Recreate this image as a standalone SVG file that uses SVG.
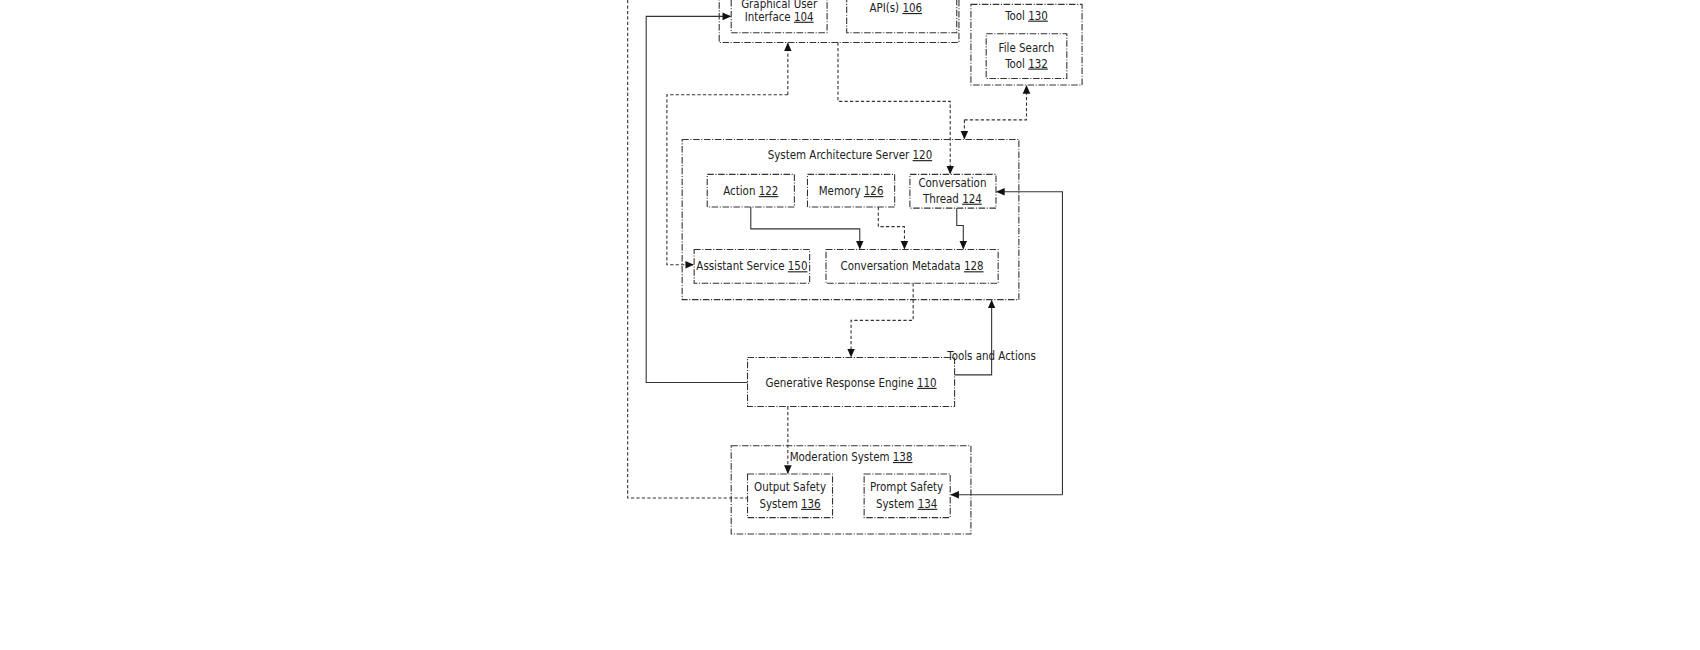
<svg xmlns="http://www.w3.org/2000/svg" width="1700" height="650" viewBox="0 0 1700 650">
<style>
.b{fill:#fff;stroke:#333;stroke-width:1;stroke-dasharray:6 1.5 1 1.5}
.t{font-family:"DejaVu Sans Condensed","Liberation Sans",sans-serif;font-size:10.5px;fill:#222;text-anchor:middle}
.c{fill:none;stroke:#333;stroke-width:1}
.d{fill:none;stroke:#333;stroke-width:1;stroke-dasharray:3 2}
</style>
<defs><marker id="a" markerWidth="8" markerHeight="8" refX="7" refY="4" orient="auto" markerUnits="userSpaceOnUse"><path d="M0,0.5 L8,4 L0,7.5z" fill="#111"/></marker></defs>
<rect width="1700" height="650" fill="#fff"/>
<g transform="scale(1.0897)">
<g id="client"><rect class="b" x="660" y="-20" width="220" height="59"/></g>
<g id="gui"><rect class="b" x="671" y="-10" width="88" height="40"/><text class="t" x="715" y="7">Graphical User</text><text class="t" x="715" y="19">Interface <tspan text-decoration="underline">104</tspan></text></g>
<g id="api"><rect class="b" x="777" y="-10" width="101" height="40"/><text class="t" x="822" y="11">API(s) <tspan text-decoration="underline">106</tspan></text></g>
<g id="tool"><rect class="b" x="891" y="4" width="102" height="74"/><text class="t" x="942" y="18">Tool <tspan text-decoration="underline">130</tspan></text></g>
<g id="filesearch"><rect class="b" x="905" y="31" width="74" height="41"/><text class="t" x="942" y="48">File Search</text><text class="t" x="942" y="62">Tool <tspan text-decoration="underline">132</tspan></text></g>
<g id="sas"><rect class="b" x="626" y="128" width="309" height="147"/><text class="t" x="780" y="146">System Architecture Server <tspan text-decoration="underline">120</tspan></text></g>
<g id="action"><rect class="b" x="649" y="160" width="80" height="30"/><text class="t" x="689" y="179">Action <tspan text-decoration="underline">122</tspan></text></g>
<g id="memory"><rect class="b" x="741" y="160" width="80" height="30"/><text class="t" x="781" y="179">Memory <tspan text-decoration="underline">126</tspan></text></g>
<g id="thread"><rect class="b" x="835" y="160" width="79" height="31"/><text class="t" x="874" y="172">Conversation</text><text class="t" x="874" y="186">Thread <tspan text-decoration="underline">124</tspan></text></g>
<g id="assistant"><rect class="b" x="637" y="229" width="106" height="31"/><text class="t" x="690" y="248">Assistant Service <tspan text-decoration="underline">150</tspan></text></g>
<g id="metadata"><rect class="b" x="758" y="229" width="158" height="31"/><text class="t" x="837" y="248">Conversation Metadata <tspan text-decoration="underline">128</tspan></text></g>
<g id="gre"><rect class="b" x="686" y="328" width="190" height="45"/><text class="t" x="781" y="355">Generative Response Engine <tspan text-decoration="underline">110</tspan></text></g>
<g id="moderation"><rect class="b" x="671" y="409" width="220" height="81"/><text class="t" x="781" y="423">Moderation System <tspan text-decoration="underline">138</tspan></text></g>
<g id="output"><rect class="b" x="686" y="435" width="78" height="40"/><text class="t" x="725" y="451">Output Safety</text><text class="t" x="725" y="466">System <tspan text-decoration="underline">136</tspan></text></g>
<g id="prompt"><rect class="b" x="793" y="435" width="79" height="40"/><text class="t" x="832" y="451">Prompt Safety</text><text class="t" x="832" y="466">System <tspan text-decoration="underline">134</tspan></text></g>
<g id="connectors">
<path class="d" d="M576,0 V457 H686"/>
<path class="c" d="M686,351 H593 V15 H670" marker-end="url(#a)"/>
<path class="d" d="M723,87 V40" marker-end="url(#a)"/>
<path class="d" d="M723,87 H612 V243 H636" marker-end="url(#a)"/>
<path class="d" d="M769,39 V93 H872 V159" marker-end="url(#a)"/>
<path class="d" d="M885,110 V127" marker-end="url(#a)"/>
<path class="d" d="M885,110 H942 V79" marker-end="url(#a)"/>
<path class="c" d="M689,190 V210 H789 V228" marker-end="url(#a)"/>
<path class="d" d="M806,190 V208 H830 V228" marker-end="url(#a)"/>
<path class="c" d="M878,191 V207 H884 V228" marker-end="url(#a)"/>
<path class="c" d="M975,454 V176 H915" marker-end="url(#a)"/>
<path class="c" d="M975,454 H873" marker-end="url(#a)"/>
<path class="d" d="M838,260 V294 H781 V327" marker-end="url(#a)"/>
<path class="c" d="M876,344 H910 V276" marker-end="url(#a)"/>
<path class="d" d="M723,373 V434" marker-end="url(#a)"/>
<text class="t" x="910" y="330">Tools and Actions</text>
</g>
</g>
</svg>
